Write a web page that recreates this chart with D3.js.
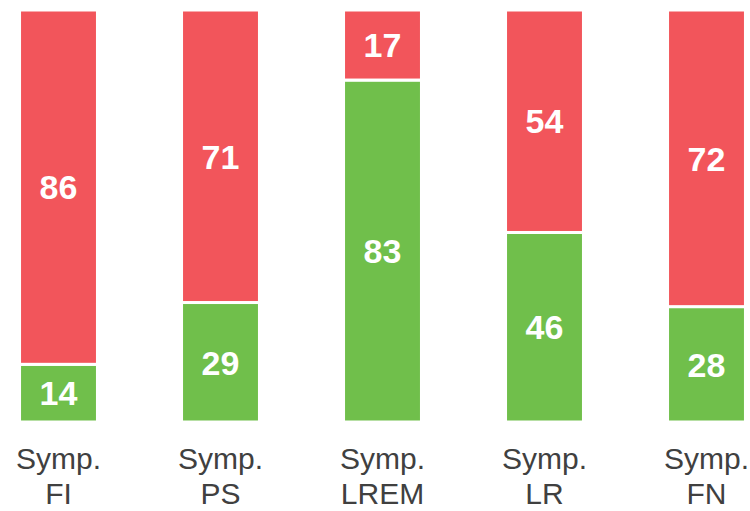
<!DOCTYPE html>
<html>
<head>
<meta charset="utf-8">
<script src="https://cdn.jsdelivr.net/npm/d3@7"></script>
<style>
  body { margin: 0; background: #fff; }
  svg { display: block; }
</style>
</head>
<body>
<svg id="chart"></svg>
<script>
// data
var categories = ["FI", "PS", "LREM", "LR", "FN"];
var labelPrefix = "Symp.";
var greenValues = [14, 29, 83, 46, 28];
var redValues = [86, 71, 17, 54, 72];

var width = 750;
var height = 511;

var svg = d3.select("#chart")
  .attr("width", width)
  .attr("height", height);

var x = d3.scaleBand()
  .domain(categories)
  .range([-22.5, 787.5])
  .paddingInner(0.519)
  .paddingOuter(0.2595);

var y = d3.scaleLinear()
  .domain([0, 100])
  .range([422, 10]);

// stack green first (bottom), red on top
var rows = categories.map(function(c, i) {
  return {cat: c, green: greenValues[i], red: redValues[i]};
});
var stack = d3.stack().keys(["green", "red"]);
var series = stack(rows);
var colors = {green: "#70bf4b", red: "#f2555b"};

var groups = svg.selectAll("g.series")
  .data(series)
  .enter().append("g")
  .attr("class", "series")
  .style("fill", d => colors[d.key]);

groups.selectAll("rect")
  .data(d => d)
  .enter().append("rect")
  .attr("x", d => x(d.data.cat))
  .attr("y", d => y(d[1]))
  .attr("width", x.bandwidth())
  .attr("height", d => y(d[0]) - y(d[1]))
  .attr("stroke", "#fff")
  .attr("stroke-width", 3);

groups.selectAll("text")
  .data(d => d.map(v => ({v: v, key: d.key})))
  .enter().append("text")
  .attr("x", d => x(d.v.data.cat) + x.bandwidth() / 2)
  .attr("y", d => (y(d.v[0]) + y(d.v[1])) / 2)
  .attr("dy", "0.36em")
  .attr("text-anchor", "middle")
  .style("fill", "#fff")
  .style("font-family", "Liberation Sans, Arial, sans-serif")
  .style("font-weight", "bold")
  .style("font-size", "34px")
  .text(d => d.v.data[d.key]);

// category labels, two lines
var labels = svg.append("g")
  .selectAll("text")
  .data(categories)
  .enter().append("text")
  .attr("x", d => x(d) + x.bandwidth() / 2)
  .attr("text-anchor", "middle")
  .style("fill", "#404040")
  .style("font-family", "Liberation Sans, Arial, sans-serif")
  .style("font-size", "30px");

labels.append("tspan")
  .attr("x", d => x(d) + x.bandwidth() / 2)
  .attr("y", 469)
  .text(labelPrefix);

labels.append("tspan")
  .attr("x", d => x(d) + x.bandwidth() / 2)
  .attr("y", 504)
  .text(d => d);
</script>
</body>
</html>
